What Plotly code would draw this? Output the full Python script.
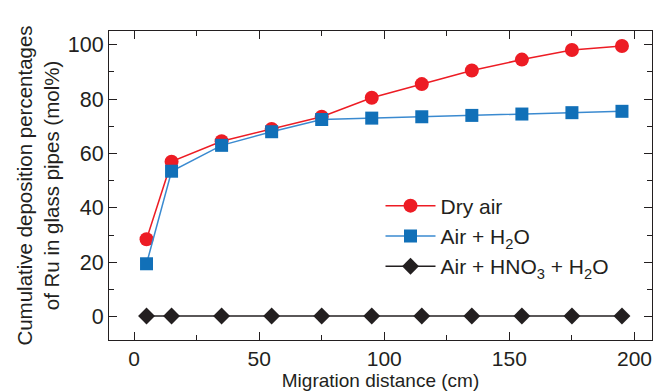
import plotly.graph_objects as go

distance = [5, 15, 35, 55, 75, 95, 115, 135, 155, 175, 195]
dry_air = [28.5, 57, 64.5, 69, 73.5, 80.5, 85.5, 90.5, 94.5, 98, 99.5]
air_h2o = [19.5, 53.5, 63, 68, 72.5, 73, 73.5, 74, 74.5, 75, 75.5]
air_hno3_h2o = [0.3, 0.3, 0.3, 0.3, 0.3, 0.3, 0.3, 0.3, 0.3, 0.3, 0.3]

x_ticks = [0, 50, 100, 150, 200]
y_ticks = [0, 20, 40, 60, 80, 100]

font = "Liberation Sans, Arial, sans-serif"

fig = go.Figure()
fig.add_trace(go.Scatter(x=distance, y=dry_air, name="Dry air", mode="lines+markers",
                         line=dict(color="#ED1C24", width=1.5),
                         marker=dict(symbol="circle", size=14, color="#ED1C24")))
fig.add_trace(go.Scatter(x=distance, y=air_h2o, name="Air + H<sub>2</sub>O", mode="lines+markers",
                         line=dict(color="#3A8AD0", width=1.5),
                         marker=dict(symbol="square", size=13, color="#1170B8")))
fig.add_trace(go.Scatter(x=distance, y=air_hno3_h2o, name="Air + HNO<sub>3</sub> + H<sub>2</sub>O",
                         mode="lines+markers",
                         line=dict(color="#231F20", width=1.5),
                         marker=dict(symbol="diamond", size=13, color="#231F20")))

axis_common = dict(showgrid=False, zeroline=False, showline=True, linecolor="#231F20", linewidth=1.2,
                   mirror="ticks", ticks="inside", ticklen=8, tickcolor="#231F20", tickwidth=1,
                   automargin=False)

fig.update_xaxes(range=[-10, 207], tickvals=x_ticks, **axis_common,
                 tickfont=dict(size=21, color="#231F20", family=font),
                 minor=dict(ticks="inside", ticklen=5, dtick=25, tick0=0, tickcolor="#231F20"),
                 title=dict(text="Migration distance (cm)", font=dict(size=19, color="#231F20", family=font),
                            standoff=4))
fig.update_yaxes(range=[-8.5, 105], tickvals=y_ticks, **axis_common,
                 tickfont=dict(size=21.5, color="#231F20", family=font),
                 minor=dict(ticks="inside", ticklen=5, dtick=10, tick0=0, tickcolor="#231F20"),
                 title=dict(text="Cumulative deposition percentages<br>of Ru in glass pipes (mol%)",
                            font=dict(size=20.5, color="#231F20", family=font), standoff=2))

fig.update_layout(
    width=656, height=391,
    margin=dict(l=109, r=4, t=31, b=51),
    plot_bgcolor="white", paper_bgcolor="white",
    showlegend=True,
    legend=dict(x=0.5, y=0.5, xanchor="left", yanchor="top", bgcolor="rgba(0,0,0,0)",
                font=dict(size=21, color="#231F20", family=font), itemwidth=50,
                tracegroupgap=0),
)

fig.write_html("out.html", config={"displayModeBar": False},
               post_script="document.body.style.margin='0';document.body.style.overflow='hidden';")
